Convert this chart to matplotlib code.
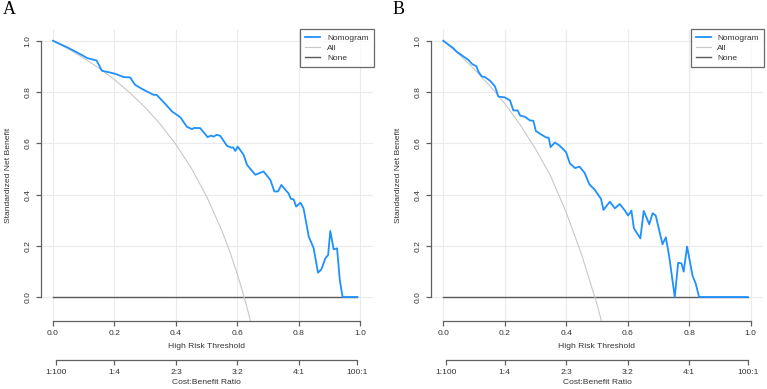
import matplotlib
matplotlib.use("Agg")
import matplotlib.pyplot as plt

plt.rcParams['font.family'] = ['Liberation Sans', 'DejaVu Sans']

# ---- data ----
# panel A
a_thr = [0.0, 0.05, 0.093, 0.112, 0.142, 0.159, 0.186, 0.202, 0.231, 0.251, 0.267, 0.294,
         0.327, 0.337, 0.365, 0.387, 0.414, 0.435, 0.452, 0.46, 0.479, 0.503, 0.514, 0.522,
         0.533, 0.544, 0.566, 0.58, 0.586, 0.593, 0.601, 0.62, 0.631, 0.658, 0.685, 0.707,
         0.72, 0.732, 0.743, 0.756, 0.766, 0.774, 0.783, 0.791, 0.805, 0.815, 0.832, 0.848,
         0.862, 0.873, 0.886, 0.895, 0.902, 0.913, 0.924, 0.933, 0.942, 0.99]
a_nomo = [1.0, 0.972, 0.945, 0.932, 0.923, 0.883, 0.876, 0.871, 0.858, 0.857, 0.828, 0.809,
          0.789, 0.789, 0.754, 0.724, 0.702, 0.665, 0.655, 0.66, 0.659, 0.624, 0.63, 0.626,
          0.633, 0.629, 0.59, 0.583, 0.584, 0.57, 0.587, 0.555, 0.516, 0.477, 0.49, 0.457,
          0.412, 0.412, 0.4375, 0.418, 0.405, 0.383, 0.381, 0.353, 0.368, 0.346, 0.236, 0.19,
          0.095, 0.108, 0.151, 0.164, 0.258, 0.186, 0.19, 0.066, 0.0, 0.0]
a_all_thr = [0.0, 0.05, 0.1, 0.15, 0.2, 0.25, 0.3, 0.35, 0.4, 0.45, 0.5, 0.55, 0.575, 0.6,
             0.625, 0.65]
a_all = [1.0, 0.968, 0.932, 0.893, 0.848, 0.797, 0.740, 0.673, 0.595, 0.503, 0.392, 0.257,
         0.178, 0.088, -0.013, -0.128]

# panel B
b_thr = [0.0, 0.0325, 0.043, 0.065, 0.081, 0.094, 0.108, 0.114, 0.125, 0.136, 0.152, 0.168,
         0.179, 0.2, 0.217, 0.228, 0.242, 0.25, 0.266, 0.282, 0.293, 0.301, 0.32, 0.336,
         0.343, 0.349, 0.363, 0.379, 0.399, 0.412, 0.429, 0.443, 0.46, 0.475, 0.493, 0.513,
         0.521, 0.542, 0.558, 0.574, 0.591, 0.601, 0.612, 0.62, 0.641, 0.652, 0.67, 0.681,
         0.691, 0.713, 0.724, 0.735, 0.753, 0.764, 0.775, 0.782, 0.793, 0.811, 0.821, 0.832,
         0.99]
b_nomo = [1.0, 0.971, 0.958, 0.939, 0.926, 0.909, 0.9, 0.88, 0.861, 0.858, 0.844, 0.822,
          0.782, 0.779, 0.767, 0.728, 0.728, 0.708, 0.703, 0.689, 0.688, 0.648, 0.633, 0.622,
          0.622, 0.585, 0.603, 0.59, 0.566, 0.521, 0.503, 0.509, 0.484, 0.44, 0.418, 0.383,
          0.34, 0.372, 0.346, 0.363, 0.337, 0.318, 0.337, 0.268, 0.229, 0.336, 0.284, 0.327,
          0.318, 0.206, 0.233, 0.157, 0.0, 0.134, 0.131, 0.099, 0.197, 0.082, 0.053, 0.0,
          0.0]
b_all_thr = [0.0, 0.05, 0.1, 0.15, 0.2, 0.25, 0.3, 0.35, 0.4, 0.45, 0.5, 0.55]
b_all = [1.0, 0.948, 0.89, 0.826, 0.755, 0.672, 0.578, 0.47, 0.33, 0.165, -0.028, -0.256]

none_thr = [0.0, 0.99]
none_nb = [0.0, 0.0]

x_ticks = [0.0, 0.2, 0.4, 0.6, 0.8, 1.0]
y_ticks = [0.0, 0.2, 0.4, 0.6, 0.8, 1.0]
cb_ticks = [0.01, 0.2, 0.4, 0.6, 0.8, 0.99]
cb_labels = ["1:100", "1:4", "2:3", "3:2", "4:1", "100:1"]

# ---- style ----
BLUE = "#1E90FF"
ALLC = "#C8C8C8"
NONEC = "#5A5A5A"
AXC = "#606060"
TXT = "#333333"
FS = 6.1

W, H = 767, 389
fig = plt.figure(figsize=(W / 100, H / 100), dpi=100)


def panel(left_px, letter, thr, nomo, all_thr, all_nb):
    top_px, bot_px, width_px = 30, 320.6, 332
    hgt = bot_px - top_px
    ax = fig.add_axes([left_px / W, 1 - bot_px / H, width_px / W, hgt / H])
    ax.set_xlim(-0.04, 1.04)
    ax.set_ylim(-0.092, 1.042)

    for v in x_ticks:
        ax.axvline(v, color="#EBEBEB", lw=0.8, zorder=0)
    for v in y_ticks:
        ax.axhline(v, color="#EBEBEB", lw=0.8, zorder=0)

    l_none, = ax.plot(none_thr, none_nb, color=NONEC, lw=1.0, zorder=2)
    l_all, = ax.plot(all_thr, all_nb, color=ALLC, lw=0.8, zorder=2)
    l_nomo, = ax.plot(thr, nomo, color=BLUE, lw=1.3, zorder=3)

    for s in ["top", "right"]:
        ax.spines[s].set_visible(False)
    for s in ["left", "bottom"]:
        ax.spines[s].set_color(AXC)
        ax.spines[s].set_linewidth(0.9)
    ax.spines["left"].set_bounds(0, 1)
    ax.spines["bottom"].set_bounds(0, 1)

    ax.set_xticks(x_ticks)
    ax.set_xticklabels(["%.1f" % v for v in x_ticks])
    ax.set_yticks(y_ticks)
    ax.set_yticklabels(["%.1f" % v for v in y_ticks], rotation=90, va="center")
    ax.tick_params(axis="both", length=3.6, width=0.9, color=AXC, labelsize=FS,
                   labelcolor=TXT, pad=3)

    ax.set_ylabel("Standardized Net Benefit", fontsize=FS, color=TXT)
    ax.yaxis.label.set_va("center")
    ax.yaxis.set_label_coords(-32.5 / width_px, 0.5)

    ax.text(0.5, -(346 - bot_px) / hgt, "High Risk Threshold",
            transform=ax.transAxes, ha="center", va="center", fontsize=FS, color=TXT)

    sec = ax.secondary_xaxis(-(359.5 - bot_px) / hgt)
    sec.set_xticks(cb_ticks)
    sec.set_xticklabels(cb_labels)
    sec.spines["bottom"].set_bounds(0.01, 0.99)
    sec.spines["bottom"].set_color(AXC)
    sec.spines["bottom"].set_linewidth(0.9)
    sec.tick_params(axis="x", length=3.6, width=0.9, color=AXC, labelsize=FS,
                    labelcolor=TXT, pad=3)
    ax.text(0.5, -(383 - bot_px) / hgt, "Cost:Benefit Ratio",
            transform=ax.transAxes, ha="center", va="center", fontsize=FS, color=TXT)

    leg = ax.legend([l_nomo, l_all, l_none], ["Nomogram", "All", "None"],
                    loc="upper right", bbox_to_anchor=(1.003, 1.003), fontsize=6,
                    frameon=True, fancybox=False, borderaxespad=0, handlelength=1.8,
                    labelspacing=0.25, borderpad=0.6, handletextpad=0.8)
    leg.get_frame().set_edgecolor("#444444")
    leg.get_frame().set_linewidth(0.9)
    for t in leg.get_texts():
        t.set_color(TXT)

    fig.text((left_px - 38) / W, 1 - 10 / H, letter, family=["Liberation Serif"],
             fontsize=13, ha="left", va="center")
    return ax


panel(40.7, "A", a_thr, a_nomo, a_all_thr, a_all)
panel(431.0, "B", b_thr, b_nomo, b_all_thr, b_all)

fig.savefig("out.png", dpi=100)
